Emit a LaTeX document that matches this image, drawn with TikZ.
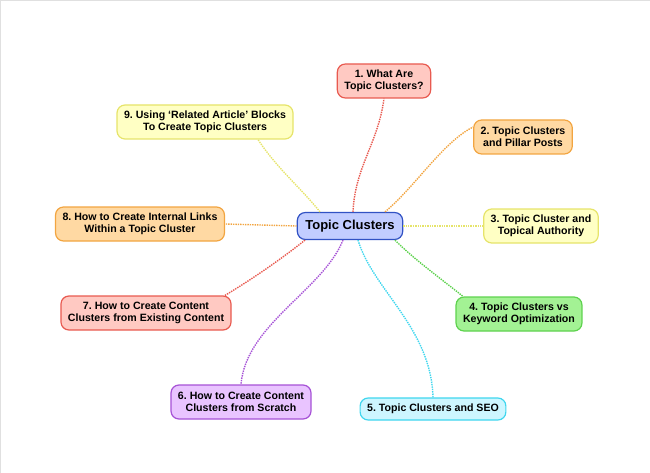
\documentclass[tikz,border=0pt]{standalone}
\usepackage{fontspec}
\setmainfont{Liberation Sans}
\usepackage{tikz}
\frenchspacing

\definecolor{redfill}{HTML}{FFC9C2}
\definecolor{redline}{HTML}{E85A50}
\definecolor{orangefill}{HTML}{FFD9A3}
\definecolor{orangeline}{HTML}{F2A541}
\definecolor{yellowfill}{HTML}{FFFFC4}
\definecolor{yellowline}{HTML}{E6E46A}
\definecolor{greenfill}{HTML}{A3F294}
\definecolor{greenline}{HTML}{5ED24E}
\definecolor{cyanfill}{HTML}{CDF6FF}
\definecolor{cyanline}{HTML}{3FD6EE}
\definecolor{purplefill}{HTML}{E9C4FF}
\definecolor{purpleline}{HTML}{A652D6}
\definecolor{bluefill}{HTML}{C2CDFF}
\definecolor{blueline}{HTML}{3152C4}

\begin{document}
\begin{tikzpicture}[x=1pt, y=-1pt,
    box/.style={draw=#1line, fill=#1fill, line width=1.2pt, rounded corners=8pt,
      align=center, inner xsep=7pt, inner ysep=3pt, minimum height=34pt,
      font=\bfseries\fontsize{10.6}{12.3}\selectfont},
    link/.style={draw=#1line, densely dotted, line width=1.4pt}]
    \useasboundingbox (0,0) rectangle (650,473);
    \draw[black!12, line width=1pt] (0.5,473) -- (0.5,0.5) -- (650,0.5);

    \node[box=blue, minimum height=27pt, inner xsep=8pt, font=\bfseries\fontsize{13}{15}\selectfont] (C) at (350,226) {Topic Clusters};

    \node[box=red] (T1) at (384,81) {1. What Are\\Topic Clusters?};
    \node[box=orange] (T2) at (523,137) {2. Topic Clusters\\and Pillar Posts};
    \node[box=yellow] (T3) at (541,226) {3. Topic Cluster and\\Topical Authority};
    \node[box=green] (T4) at (519,314) {4. Topic Clusters vs\\Keyword Optimization};
    \node[box=cyan, minimum height=22pt] (T5) at (433,409) {5. Topic Clusters and SEO};
    \node[box=purple] (T6) at (241,402) {6. How to Create Content\\Clusters from Scratch};
    \node[box=red] (T7) at (146,313) {7. How to Create Content\\Clusters from Existing Content};
    \node[box=orange] (T8) at (140,224) {8. How to Create Internal Links\\Within a Topic Cluster};
    \node[box=yellow] (T9) at (205,122) {9. Using ‘Related Article’ Blocks\\To Create Topic Clusters};

    \draw[link=red] ([xshift=3pt]C.north) .. controls +(2,-45) and +(-6,45) .. (T1.south);
    \draw[link=orange] ([xshift=35pt]C.north) .. controls +(30,-25) and +(-30,15) .. ([yshift=10pt]T2.west);
    \draw[link=yellow] (C.east) -- (T3.west);
    \draw[link=green] ([xshift=45pt]C.south) .. controls +(20,20) and +(-25,-20) .. ([xshift=-56pt]T4.north);
    \draw[link=cyan] ([xshift=8pt]C.south) .. controls +(15,50) and +(-2,-70) .. (T5.north);
    \draw[link=purple] ([xshift=-7pt]C.south) .. controls +(-20,50) and +(5,-60) .. (T6.north);
    \draw[link=red] ([xshift=-45pt]C.south) .. controls +(-25,20) and +(25,-15) .. ([xshift=79pt]T7.north);
    \draw[link=orange] (C.west) -- (T8.east);
    \draw[link=yellow] ([xshift=-30pt]C.north) .. controls +(-20,-25) and +(20,30) .. ([xshift=53pt]T9.south);
\end{tikzpicture}
\end{document}
